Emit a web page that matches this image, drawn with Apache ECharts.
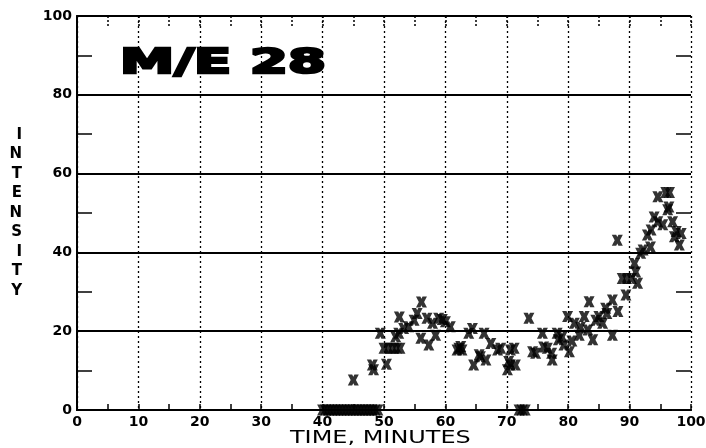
<!DOCTYPE html>
<html>
<head>
<meta charset="utf-8">
<script src="https://cdn.jsdelivr.net/npm/echarts@6/dist/echarts.min.js"></script>
<style>
  html, body { margin: 0; padding: 0; background: #fff; }
  #chart { width: 706px; height: 448px; }
</style>
</head>
<body>
<div id="chart"></div>
<script>
// time (minutes) and intensity
const times = [
  40, 40.5, 41, 41.5, 42, 42.5, 43, 43.5, 44, 44.5, 45, 45.5, 46, 46.5, 47, 47.5, 48, 48.5, 49,
  72, 72.5, 73,
  45, 48.1, 48.3, 50.4, 49.4,
  50, 50.7, 51.4, 52, 52.6,
  51.9, 52.4, 52.5, 53.2, 54, 54.9, 55.4, 56.1, 56, 57.3, 57, 57.9, 58.4, 58.9, 59.5, 60, 60.8,
  61.9, 62.5, 62.2, 62.7, 63.8, 64.4, 64.6, 65.5, 65.7, 66.3, 66.6, 67.4, 68.5, 69,
  70.1, 70.6, 71.2, 71.4, 70.3, 70.6,
  73.6, 74.2, 74.7, 75.8, 76, 76.6, 77.4, 77.3, 78.2, 78.4, 79.3, 79, 79.9, 80.2, 80.6,
  81, 81.8, 82, 82.6, 83.4, 83.2, 84, 84.5, 85, 85.6, 86.1, 86.3, 87.2, 87.2,
  88, 88.1, 89.4, 88.8, 89.5, 90.3, 91.3, 90.8, 91, 91.8, 92.2, 92.9, 93.4, 93.5,
  94, 94.6, 95.4, 94.6, 95.9, 96.5, 96.2, 96.4, 97, 97.6, 98.4, 98.1, 97.3
];
const intensity = [
  0, 0, 0, 0, 0, 0, 0, 0, 0, 0, 0, 0, 0, 0, 0, 0, 0, 0, 0,
  0, 0, 0,
  7.6, 11.4, 10.2, 11.6, 19.5,
  15.7, 15.7, 15.7, 15.7, 15.7,
  18.6, 19.5, 23.6, 20.7, 21.1, 22.8, 24.5, 27.4, 18.2, 16.5, 23.3, 22, 19, 23.3, 23, 22.4, 21.1,
  15.2, 16.1, 15.7, 15.2, 19.5, 20.7, 11.4, 14, 13.5, 19.5, 12.7, 16.9, 15.2, 15.7,
  10.2, 11.4, 15.7, 11.4, 12.3, 15.2,
  23.3, 14.8, 14.4, 19.5, 16, 15.7, 12.7, 14.4, 19.5, 17.8, 16.5, 18.5, 23.7, 14.8, 17.5,
  22, 19, 21, 23.7, 27.5, 20.3, 17.8, 22.8, 23.7, 22, 25.8, 24.5, 27.9, 19,
  43.1, 25, 29.2, 33.4, 33.4, 33.4, 32.2, 37.2, 35, 39.8, 40.6, 44.4, 41.4, 45.7,
  49, 47.8, 47, 54.1, 55.2, 55.2, 50.8, 51.5, 47.8, 45.3, 44.8, 41.9, 44
];
const xTicks = [0, 10, 20, 30, 40, 50, 60, 70, 80, 90, 100];
const yTicks = [0, 20, 40, 60, 80, 100];

const points = times.map((t, i) => [t, intensity[i]]);

const xMark = 'path://M0,0 L4,0 L5,2 L6,0 L10,0 L7.4,5 L10,10 L6,10 L5,8 L4,10 L0,10 L2.6,5 Z';
const labelFont = { color: '#000', fontFamily: 'DejaVu Sans', fontWeight: 'bold', fontSize: 14 };
const black = { color: '#000', width: 2 };

const L = 77, R = 15, T = 16, B = 38;

// the inward tick marks are drawn as split lines of narrow strip grids along the frame
const hidden = { show: false };
function stripAxis(gridIndex, interval, lineType) {
  return {
    type: 'value', gridIndex: gridIndex, min: 0, max: 100, interval: interval,
    axisLine: hidden, axisTick: hidden, axisLabel: hidden,
    splitLine: { show: true, lineStyle: { color: '#000', width: 1.5, type: lineType || 'solid' } }
  };
}
function blankAxis(gridIndex) {
  return { type: 'value', gridIndex: gridIndex, min: 0, max: 1, show: false, splitLine: hidden };
}

const chart = echarts.init(document.getElementById('chart'));
chart.setOption({
  animation: false,
  backgroundColor: '#fff',
  grid: [
    { left: L, right: R, top: T, bottom: B, outerBoundsMode: 'none' },
    { left: L, width: 15, top: T, bottom: B, outerBoundsMode: 'none' },      // left ticks
    { right: R, width: 15, top: T, bottom: B, outerBoundsMode: 'none' },     // right ticks
    { left: L, right: R, top: T, height: 10, outerBoundsMode: 'none' },      // top ticks
    { left: L, right: R, bottom: B, height: 6, outerBoundsMode: 'none' }     // bottom ticks
  ],
  xAxis: [{
    type: 'value', min: 0, max: 100, interval: 10,
    axisLine: { show: true, lineStyle: black },
    axisTick: hidden,
    axisLabel: Object.assign({ margin: 5, formatter: v => xTicks.includes(v) ? String(v) : '' }, labelFont),
    splitLine: { show: true, lineStyle: { color: '#000', width: 1.3, type: [2, 3] } }
  }, {
    type: 'value', position: 'top', min: 0, max: 100, interval: 10,
    axisLine: { show: true, lineStyle: black },
    axisTick: hidden, axisLabel: hidden, splitLine: hidden
  },
    blankAxis(1),
    blankAxis(2),
    stripAxis(3, 5, [2, 2]),
    stripAxis(4, 5)
  ],
  yAxis: [{
    type: 'value', min: 0, max: 100, interval: 20,
    axisLine: { show: true, lineStyle: black },
    axisTick: hidden,
    axisLabel: Object.assign({ margin: 5, formatter: v => yTicks.includes(v) ? String(v) : '' }, labelFont),
    splitLine: { show: true, lineStyle: { color: '#000', width: 2 } },
    name: 'I\nN\nT\nE\nN\nS\nI\nT\nY', nameLocation: 'middle', nameGap: 55, nameRotate: 0,
    nameTextStyle: { color: '#000', fontFamily: 'DejaVu Sans', fontWeight: 'bold', fontSize: 15, lineHeight: 19.5 }
  }, {
    type: 'value', position: 'right', min: 0, max: 100, interval: 20,
    axisLine: { show: true, lineStyle: black },
    axisTick: hidden, axisLabel: hidden, splitLine: hidden
  },
    stripAxis(1, 10),
    stripAxis(2, 10),
    blankAxis(3),
    blankAxis(4)
  ],
  graphic: [{
    type: 'text', left: 118, top: 46,
    scaleX: 1.6,
    style: { text: 'M/E 28', fill: '#000', stroke: '#000', lineWidth: 2.5, font: '900 34px "DejaVu Sans"' }
  }, {
    type: 'text', left: 290, top: 429,
    scaleX: 1.33,
    style: { text: 'TIME, MINUTES', fill: '#000', font: '18px "DejaVu Sans"' }
  }],
  series: [{
    type: 'scatter',
    xAxisIndex: 0, yAxisIndex: 0,
    data: points,
    symbol: xMark,
    symbolSize: 11,
    itemStyle: { color: '#000' },
    clip: false
  }]
});
</script>
</body>
</html>
